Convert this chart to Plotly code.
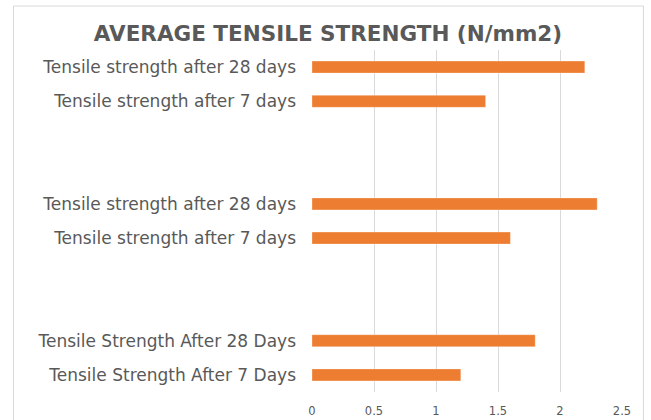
import plotly.graph_objects as go

# Three specimen groups, listed bottom to top, each with a 7-day and a 28-day result
labels_7 = ["Tensile Strength After 7 Days", "Tensile strength after 7 days", "Tensile strength after 7 days"]
labels_28 = ["Tensile Strength After 28 Days", "Tensile strength after 28 days", "Tensile strength after 28 days"]
values_7 = [1.2, 1.6, 1.4]
values_28 = [1.8, 2.3, 2.2]
x_ticks = [0, 0.5, 1, 1.5, 2, 2.5]
x_tick_text = ["0", "0.5", "1", "1.5", "2", "2.5"]

# Each group occupies two slots followed by two empty slots
positions, values, labels = [], [], []
for g in range(len(values_7)):
    base = g * 4
    positions += [base, base + 1]
    values += [values_7[g], values_28[g]]
    labels += [labels_7[g], labels_28[g]]

ORANGE = "#ED7D31"
TEXT = "#595959"
GRID = "#D9D9D9"
FONT = "DejaVu Sans"

W, H = 651, 420
ML, MR, MT, MB = 311.5, 28.5, 50, 28

fig = go.Figure(
    go.Bar(
        x=values,
        y=positions,
        orientation="h",
        width=0.35,
        marker=dict(color=ORANGE, line=dict(color="rgba(255,255,255,0.6)", width=0.5)),
        hoverinfo="x",
    )
)

# Chart frame drawn in paper coordinates
pw, ph = W - ML - MR, H - MT - MB
fig.add_shape(
    type="rect", xref="paper", yref="paper",
    x0=(12 - ML) / pw, x1=(644 - ML) / pw,
    y0=-0.3, y1=(H - MB - 6) / ph,
    line=dict(color=GRID, width=1), fillcolor="rgba(0,0,0,0)", layer="below",
)

fig.update_layout(
    width=W, height=H,
    margin=dict(l=ML, r=MR, t=MT, b=MB, pad=0, autoexpand=False),
    paper_bgcolor="white", plot_bgcolor="white",
    showlegend=False,
    title=dict(
        text="<b>AVERAGE TENSILE STRENGTH (N/mm2)</b>",
        x=328 / W, xanchor="center", y=1 - 33 / H, yanchor="middle",
        font=dict(family=FONT, size=21.5, color=TEXT),
    ),
    xaxis=dict(
        range=[0, 2.5], tickvals=x_ticks, ticktext=x_tick_text,
        showgrid=True, gridcolor=GRID, gridwidth=1, zeroline=False,
        showline=False, ticks="", ticklabelstandoff=10, automargin=False,
        tickfont=dict(family=FONT, size=11.5, color=TEXT),
        fixedrange=True,
    ),
    yaxis=dict(
        range=[-0.5, 9.5], tickvals=positions, ticktext=labels,
        showgrid=False, zeroline=False, showline=False, ticks="",
        ticklabelstandoff=15, automargin=False,
        tickfont=dict(family=FONT, size=17, color=TEXT),
        fixedrange=True,
    ),
)

fig.write_html("out.html")
